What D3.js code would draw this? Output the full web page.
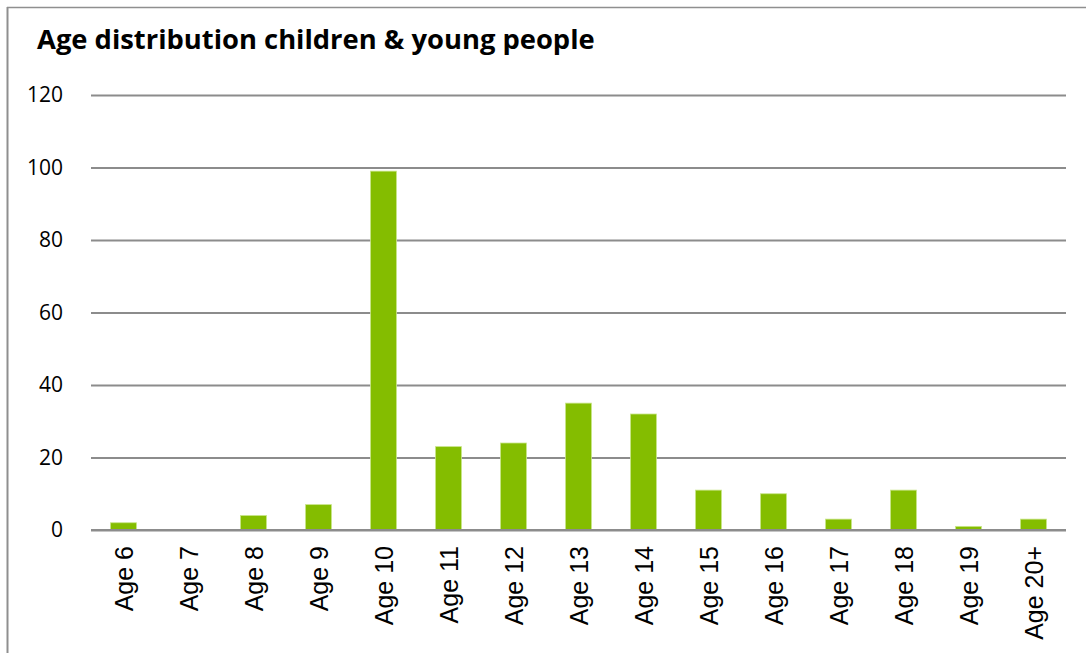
<!DOCTYPE html>
<html>
<head>
<meta charset="utf-8">
<script src="https://cdn.jsdelivr.net/npm/d3@7"></script>
<style>
  html, body { margin: 0; padding: 0; background: #fff; }
  svg { display: block; }
</style>
</head>
<body>
<svg id="chart" width="1086" height="653"></svg>
<script>
// Age groups and number of children & young people in each
const categories = ["Age 6", "Age 7", "Age 8", "Age 9", "Age 10", "Age 11", "Age 12",
  "Age 13", "Age 14", "Age 15", "Age 16", "Age 17", "Age 18", "Age 19", "Age 20+"];
const counts = [2, 0, 4, 7, 99, 23, 24, 35, 32, 11, 10, 3, 11, 1, 3];
const yTicks = [0, 20, 40, 60, 80, 100, 120];
const title = "Age distribution children & young people";

const svg = d3.select("#chart");
const W = 1086, H = 653;
const plot = { left: 91, right: 1066, top: 95, bottom: 530 };

// Outer frame (top and left edges visible)
svg.append("line").attr("x1", 7).attr("x2", W).attr("y1", 7.5).attr("y2", 7.5)
  .attr("stroke", "#8f8f8f").attr("stroke-width", 1.5);
svg.append("line").attr("x1", 7.5).attr("x2", 7.5).attr("y1", 7).attr("y2", H)
  .attr("stroke", "#8f8f8f").attr("stroke-width", 2);

// Title
const t = svg.append("text")
  .attr("x", 37).attr("y", 49)
  .attr("font-family", "'Open Sans', 'DejaVu Sans', sans-serif")
  .attr("font-weight", 700)
  .attr("font-size", 24)
  .attr("fill", "#000")
  .text(title);
const targetW = 558;
const tw = t.node().getComputedTextLength();
if (tw > 0) t.attr("font-size", 24 * targetW / tw);

const x = d3.scaleBand()
  .domain(categories)
  .range([plot.left, plot.right])
  .paddingInner(0.6)
  .paddingOuter(0.3);

const y = d3.scaleLinear()
  .domain([0, 120])
  .range([plot.bottom, plot.top]);

// Gridlines and y tick labels
const yAxis = d3.axisLeft(y)
  .tickValues(yTicks)
  .tickSize(-(plot.right - plot.left))
  .tickPadding(28)
  .tickFormat(d3.format("d"));

const gy = svg.append("g")
  .attr("transform", `translate(${plot.left},0)`)
  .call(yAxis);
gy.select(".domain").remove();
gy.selectAll(".tick line")
  .attr("stroke", "#8c8c8c")
  .attr("stroke-width", 2);
gy.selectAll(".tick text")
  .attr("font-family", "'Open Sans', 'DejaVu Sans', sans-serif")
  .attr("font-size", 21)
  .attr("fill", "#000");

// Bars
svg.append("g").selectAll("rect")
  .data(categories.map((c, i) => ({ c, v: counts[i] })))
  .join("rect")
  .attr("x", d => x(d.c))
  .attr("width", x.bandwidth())
  .attr("y", d => y(d.v))
  .attr("height", d => y(0) - y(d.v))
  .attr("fill", "#84bd00")
  .attr("stroke", "#c9e58a")
  .attr("stroke-width", d => d.v > 0 ? 0.8 : 0);

// Zero line on top of bars
svg.append("line")
  .attr("x1", plot.left).attr("x2", plot.right)
  .attr("y1", y(0)).attr("y2", y(0))
  .attr("stroke", "#8c8c8c").attr("stroke-width", 2);

// Category labels, rotated
const xAxis = d3.axisBottom(x).tickSize(0).tickPadding(0);
const gx = svg.append("g")
  .attr("transform", `translate(0,${plot.bottom})`)
  .call(xAxis);
gx.select(".domain").remove();
gx.selectAll(".tick text")
  .attr("font-family", "'Liberation Sans', Arial, sans-serif")
  .attr("font-size", 25)
  .attr("fill", "#000")
  .attr("text-anchor", "end")
  .attr("dy", null)
  .attr("y", null)
  .attr("transform", "translate(9,16) rotate(-90)");
</script>
</body>
</html>
